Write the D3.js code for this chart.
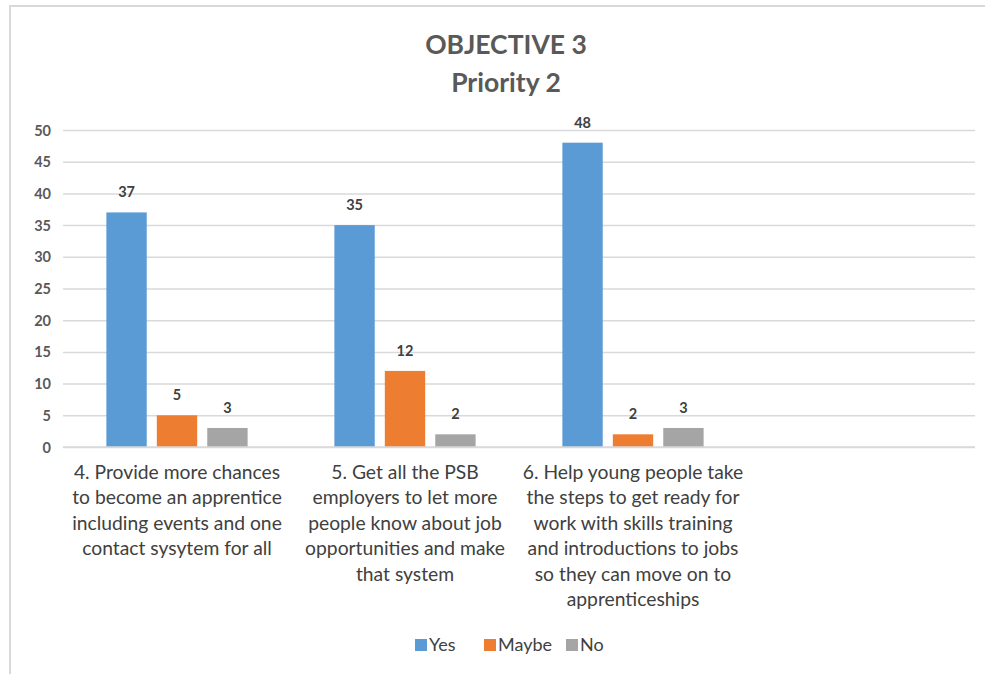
<!DOCTYPE html>
<html>
<head>
<meta charset="utf-8">
<script src="https://cdn.jsdelivr.net/npm/d3@7"></script>
<style>
  html, body { margin: 0; padding: 0; background: #fff; }
  svg text { font-family: Lato, "Open Sans", sans-serif; }
</style>
</head>
<body>
<svg id="chart" width="985" height="674"></svg>
<script>
// Survey responses per action (fourth category slot is left empty)
const categories = ["c4", "c5", "c6", "blank"];
const categoryLines = [
  ["4. Provide more chances", "to become an apprentice", "including events and one", "contact sysytem for all"],
  ["5. Get all the PSB", "employers to let more", "people know about job", "opportunities and make", "that system"],
  ["6. Help young people take", "the steps to get ready for", "work with skills training", "and introductions to jobs", "so they can move on to", "apprenticeships"],
  []
];
const seriesNames = ["Yes", "Maybe", "No"];
const yesValues = [37, 35, 48];
const maybeValues = [5, 12, 2];
const noValues = [3, 2, 3];
const seriesColors = ["#5b9bd5", "#ed7d31", "#a5a5a5"];
const yTicks = [0, 5, 10, 15, 20, 25, 30, 35, 40, 45, 50];
const titleLines = ["OBJECTIVE 3", "Priority 2"];

const seriesValues = [yesValues, maybeValues, noValues];

const svg = d3.select("#chart");

// outer chart frame
svg.append("rect")
  .attr("x", 10).attr("y", 6)
  .attr("width", 990).attr("height", 690)
  .attr("fill", "#fff")
  .attr("stroke", "#d9d9d9").attr("stroke-width", 2);

const plot = { left: 63, right: 975, top: 130, bottom: 447 };

const x = d3.scaleBand().domain(categories).range([plot.left, plot.right]).paddingInner(0).paddingOuter(0);
const xs = d3.scaleBand().domain(seriesNames).range([0, x.bandwidth()]).paddingInner(0.2).paddingOuter(0.86);
const y = d3.scaleLinear().domain([0, 50]).range([plot.bottom, plot.top]);

// gridlines and value ticks
const yAxis = d3.axisLeft(y).tickValues(yTicks).tickSize(-(plot.right - plot.left));
const gy = svg.append("g").attr("transform", `translate(${plot.left},0)`).call(yAxis);
gy.select(".domain").remove();
gy.selectAll(".tick line").attr("stroke", "#d9d9d9").attr("stroke-width", 1.5);
gy.selectAll(".tick text")
  .attr("fill", "#595959")
  .style("font-size", "14.5px")
  .style("font-weight", "bold")
  .attr("x", -12).attr("dy", "0.35em");

// title
svg.selectAll(".title").data(titleLines).join("text")
  .attr("class", "title")
  .attr("x", 506).attr("y", (d, i) => 54 + i * 38)
  .attr("text-anchor", "middle")
  .attr("fill", "#595959")
  .style("font-size", "26.5px").style("font-weight", "bold")
  .text(d => d);

// bars
const groups = svg.append("g").selectAll("g")
  .data(categories.slice(0, 3))
  .join("g")
  .attr("transform", d => `translate(${x(d)},0)`);

groups.each(function(cat, ci) {
  const g = d3.select(this);
  const rows = seriesNames.map((s, si) => ({ s, si, v: seriesValues[si][ci] }));
  g.selectAll("rect").data(rows).join("rect")
    .attr("x", d => xs(d.s))
    .attr("y", d => y(d.v))
    .attr("width", xs.bandwidth())
    .attr("height", d => y(0) - y(d.v))
    .attr("fill", d => seriesColors[d.si]);
  g.selectAll("text.val").data(rows).join("text")
    .attr("class", "val")
    .attr("x", d => xs(d.s) + xs.bandwidth() / 2)
    .attr("y", d => y(d.v) - 15)
    .attr("text-anchor", "middle")
    .attr("fill", "#404040")
    .style("font-size", "14.5px").style("font-weight", "bold")
    .text(d => d.v);
});

// axis baseline
svg.append("line")
  .attr("x1", plot.left).attr("x2", plot.right)
  .attr("y1", y(0)).attr("y2", y(0))
  .attr("stroke", "#d9d9d9").attr("stroke-width", 1.5);

// category labels
categories.forEach((c, ci) => {
  svg.append("text")
    .attr("x", x(c) + x.bandwidth() / 2)
    .attr("y", 479)
    .attr("text-anchor", "middle")
    .attr("fill", "#404040")
    .style("font-size", "19.3px")
    .selectAll("tspan").data(categoryLines[ci]).join("tspan")
    .attr("x", x(c) + x.bandwidth() / 2)
    .attr("dy", (d, i) => i === 0 ? 0 : 25.4)
    .text(d => d);
});

// legend
const legendItems = [
  { name: "Yes", x: 415 },
  { name: "Maybe", x: 484 },
  { name: "No", x: 566 }
];
const lg = svg.append("g").selectAll("g").data(legendItems).join("g")
  .attr("transform", d => `translate(${d.x},639)`);
lg.append("rect").attr("width", 12).attr("height", 12)
  .attr("fill", (d, i) => seriesColors[i]);
lg.append("text").attr("x", 14).attr("y", 12)
  .attr("fill", "#404040")
  .style("font-size", "18px")
  .text(d => d.name);
</script>
</body>
</html>
